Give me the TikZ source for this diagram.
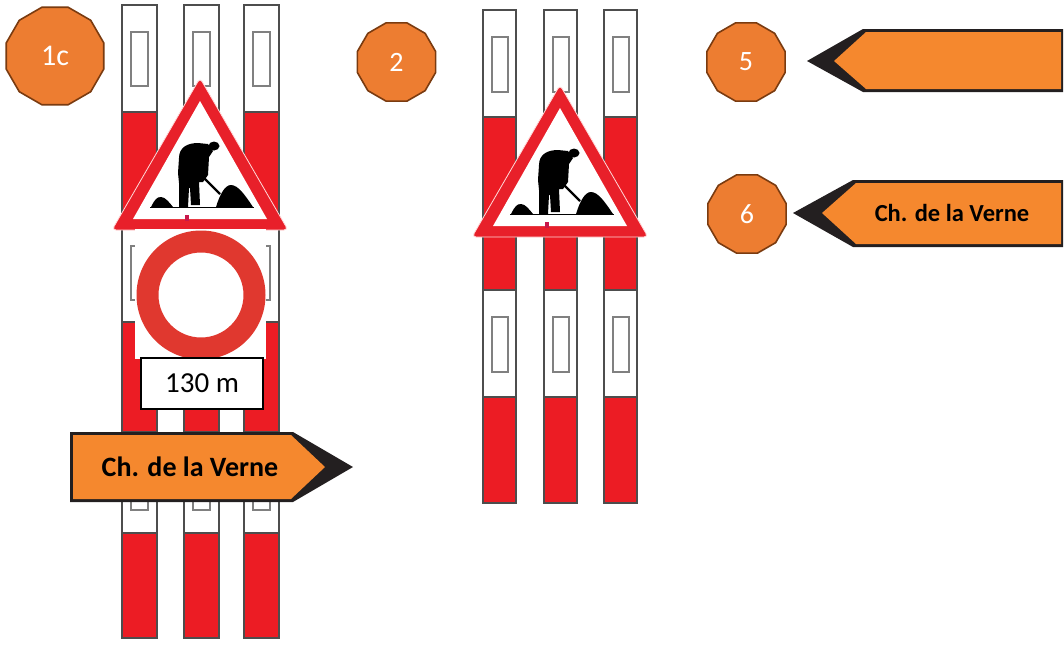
\documentclass[tikz,border=0pt]{standalone}
\usepackage{fontspec}
\setmainfont{Carlito}
\usepackage{xcolor}
\usepackage{tikz}
\usetikzlibrary{shapes.geometric}
\definecolor{badgeorange}{HTML}{ED7D31}
\definecolor{badgeline}{HTML}{7A3B10}
\definecolor{signorange}{HTML}{F5882E}
\definecolor{signblack}{HTML}{231F20}
\definecolor{postred}{HTML}{EC1C24}
\definecolor{postline}{HTML}{4D4D4D}
\definecolor{signred}{HTML}{E8202A}
\definecolor{ringred}{HTML}{E0382F}
\definecolor{markred}{HTML}{C8184A}
\tikzstyle{badge}    = [regular polygon, regular polygon sides=12, inner sep=0pt,
                        fill=badgeorange, draw=badgeline, line width=1.6pt, text=white]
\tikzstyle{signtext} = [font=\bfseries, text=black, inner sep=0pt]

\begin{document}
\begin{tikzpicture}[
    x=1pt, y=-1pt,
    postbody/.style={fill=white, draw=postline, line width=1.5pt},
    postband/.style={fill=postred, draw=postline, line width=1.5pt},
    reflector/.style={fill=white, draw=gray, line width=1.2pt},
    distbox/.style={draw=black, fill=white, line width=1.5pt, minimum width=122pt,
      minimum height=51pt, font=\fontsize{29}{31}\selectfont},
    worksign/.pic={
      \fill[signred, draw=red!15!white, line width=0.8pt, rounded corners=4pt]
        (0,0) -- (88,152) -- (-88,152) -- cycle;
      \fill[white] (0,23) -- (67,141) -- (-67,141) -- cycle;
      % worker
      \fill[black] (14,68) ellipse (5.5pt and 4.5pt);
      \fill[black] (-21,80) .. controls (-21,69) and (-12,65) .. (-2,65)
        -- (8,66) -- (13,73) -- (9,79) -- (8,97) -- (3,104) -- (-1,104)
        -- (0,127) -- (-9,127) -- (-10,110) -- (-11,110) -- (-12,129)
        -- (-21,129) -- (-21,105) -- (-22,95) -- cycle;
      \draw[black, line width=2.2pt] (3,99) -- (20,116);
      \fill[black] (16,129) .. controls (20,116) and (25,107) .. (31,107)
        .. controls (38,107) and (45,117) .. (53,129) -- cycle;
      \fill[black] (-49,129) .. controls (-45,121) and (-43,119) .. (-39,119)
        .. controls (-35,119) and (-31,124) .. (-27,129) -- cycle;
      \draw[black, line width=1.4pt] (-50,129.5) -- (54,129.5);
      \fill[markred] (-15,137) rectangle (-11,143);
    },
  ]
  \useasboundingbox (0,0) rectangle (1064,646);

  % left group of posts
  \foreach \px in {122,184,244} {
    \draw[postbody] (\px,5) rectangle ++(35,633);
    \foreach \sy/\ey in {112/219,322/432,533/638}
      \draw[postband] (\px,\sy) rectangle (\px+35,\ey);
    \foreach \sy in {32,246,456}
      \draw[reflector] (\px+9,\sy) rectangle ++(17,54);
  }
  % right group of posts
  \foreach \px in {483,544,604} {
    \draw[postbody] (\px,10) rectangle (\px+33,503);
    \draw[postband] (\px,117) rectangle (\px+33,290);
    \draw[postband] (\px,397) rectangle (\px+33,503);
    \draw[reflector] (\px+9,37) rectangle ++(16,55);
    \draw[reflector] (\px+9,317) rectangle ++(16,55);
  }

  \pic at (200,78) {worksign};
  \pic at (560,85) {worksign};

  % no vehicles sign
  \fill[white] (135,229) rectangle (266,359);
  \fill[ringred, even odd rule] (201,295) circle (64.5pt) (201,295) circle (42.5pt);
  \node[distbox] (dist) at (202,383.5) {130 m};

  % direction signs
  \fill[signblack] (70,432) -- (293,432) -- (353,467) -- (293,502) -- (70,502) -- cycle;
  \fill[signorange] (73,435) -- (291,435) -- (325,467) -- (291,499) -- (73,499) -- cycle;
  \node[signtext, font=\fontsize{28}{30}\selectfont\bfseries] (dirL) at (190,467) {Ch. de la Verne};

  \fill[signblack] (1063,29) -- (863,29) -- (807,61) -- (863,92) -- (1063,92) -- cycle;
  \fill[signorange] (1061,32) -- (866,32) -- (834,61) -- (866,89) -- (1061,89) -- cycle;

  \fill[signblack] (1063,180) -- (853,180) -- (793,213) -- (853,247) -- (1063,247) -- cycle;
  \fill[signorange] (1061,183) -- (856,183) -- (822,213) -- (856,244) -- (1061,244) -- cycle;
  \node[signtext, font=\fontsize{24.5}{26}\selectfont\bfseries] (dir6) at (952,213) {Ch. de la Verne};

  % numbered badges
  \node[badge, minimum size=101pt, font=\fontsize{30}{32}\selectfont] (b1c) at (55,56) {1c};
  \node[badge, minimum size=81pt, font=\fontsize{28}{30}\selectfont] (b2) at (396.5,62) {2};
  \node[badge, minimum size=81pt, font=\fontsize{28}{30}\selectfont] (b5) at (746,62) {5};
  \node[badge, minimum size=81pt, font=\fontsize{28}{30}\selectfont] (b6) at (747,214) {6};
\end{tikzpicture}
\end{document}
